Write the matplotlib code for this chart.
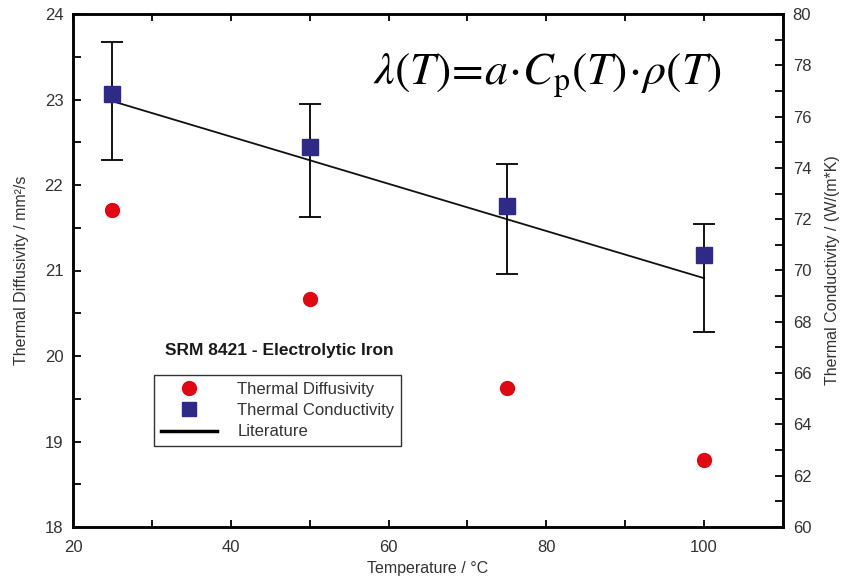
import matplotlib
matplotlib.use("Agg")
import matplotlib.pyplot as plt
from matplotlib.lines import Line2D
from matplotlib.ticker import MultipleLocator, FuncFormatter

plt.rcParams['font.family'] = ['Liberation Sans', 'DejaVu Sans']
plt.rcParams['mathtext.fontset'] = 'stix'

temperature = [25, 50, 75, 100]
diffusivity = [21.71, 20.67, 19.63, 18.78]
conductivity = [76.9, 74.8, 72.5, 70.6]
literature = [76.6, 74.3, 72.0, 69.7]
lit_err = [2.3, 2.2, 2.15, 2.1]

fig = plt.figure(figsize=(8.41, 5.78), dpi=100)
ax = fig.add_axes([73/841, 1-527/578, (783-73)/841, (527-14)/578])
ax2 = ax.twinx()

ax.set_xlim(20, 110)
ax.set_ylim(18, 24)
ax2.set_ylim(60, 80)

ax.xaxis.set_major_locator(MultipleLocator(10))
ax.xaxis.set_major_formatter(FuncFormatter(lambda v, p: f'{v:.0f}' if round(v) % 20 == 0 and v <= 100 else ''))
ax.yaxis.set_major_locator(MultipleLocator(1))
ax.yaxis.set_minor_locator(MultipleLocator(0.5))
ax2.yaxis.set_major_locator(MultipleLocator(2))
ax2.yaxis.set_minor_locator(MultipleLocator(1))

lab_col = '#333333'
for a in (ax, ax2):
    for s in a.spines.values():
        s.set_linewidth(1.8)
ax.tick_params(axis='x', which='both', direction='in', top=True, length=5, width=1.3,
               labelsize=12, labelcolor=lab_col, pad=9)
ax.tick_params(axis='y', which='both', direction='in', length=6, width=1.3,
               labelsize=12, labelcolor=lab_col, pad=7)
ax2.tick_params(axis='y', which='both', direction='in', length=6, width=1.3,
                labelsize=12, labelcolor=lab_col, pad=7)

ax.set_xlabel('Temperature / °C', fontsize=11.5, color=lab_col, labelpad=5)
ax.set_ylabel('Thermal Diffusivity / mm²/s', fontsize=11.5, color=lab_col, labelpad=11)
ax2.set_ylabel('Thermal Conductivity / (W/(m*K)', fontsize=11.5, color=lab_col, labelpad=10)

ax2.plot(temperature, literature, color='#111111', lw=1.3, zorder=2)
ax2.errorbar(temperature, literature, yerr=lit_err, fmt='none', ecolor='black',
             elinewidth=1.3, capsize=8, capthick=1.3, zorder=2)
ax2.plot(temperature, conductivity, 's', color='#2e2a85', markersize=11, zorder=3)
ax.plot(temperature, diffusivity, 'o', color='#e30613', markersize=10, zorder=3)

ax.text(0.290, 0.345, 'SRM 8421 - Electrolytic Iron', transform=ax.transAxes,
        fontsize=12.5, fontweight='bold', ha='center', va='center', color='#1a1a1a')

handles = [Line2D([], [], marker='o', color='#e30613', ls='none', markersize=10),
           Line2D([], [], marker='s', color='#2e2a85', ls='none', markersize=10),
           Line2D([], [], color='black', lw=2.5)]
leg = ax.legend(handles, ['Thermal Diffusivity', 'Thermal Conductivity', 'Literature'],
                loc='upper left', bbox_to_anchor=(0.114, 0.296), fontsize=12,
                frameon=True, fancybox=False, edgecolor='black', handlelength=3.4,
                borderpad=0.4, labelspacing=0.38, handletextpad=1.2, borderaxespad=0)
leg.get_frame().set_linewidth(1.0)
for t in leg.get_texts():
    t.set_color(lab_col)

ax.text(0.914, 0.881, r'$\lambda(T)\!=\!a\!\cdot\! C_\mathrm{p}(T)\!\cdot\!\rho(T)$',
        transform=ax.transAxes, fontsize=33, ha='right', va='center', color='black')

fig.savefig('out.png', dpi=100)
